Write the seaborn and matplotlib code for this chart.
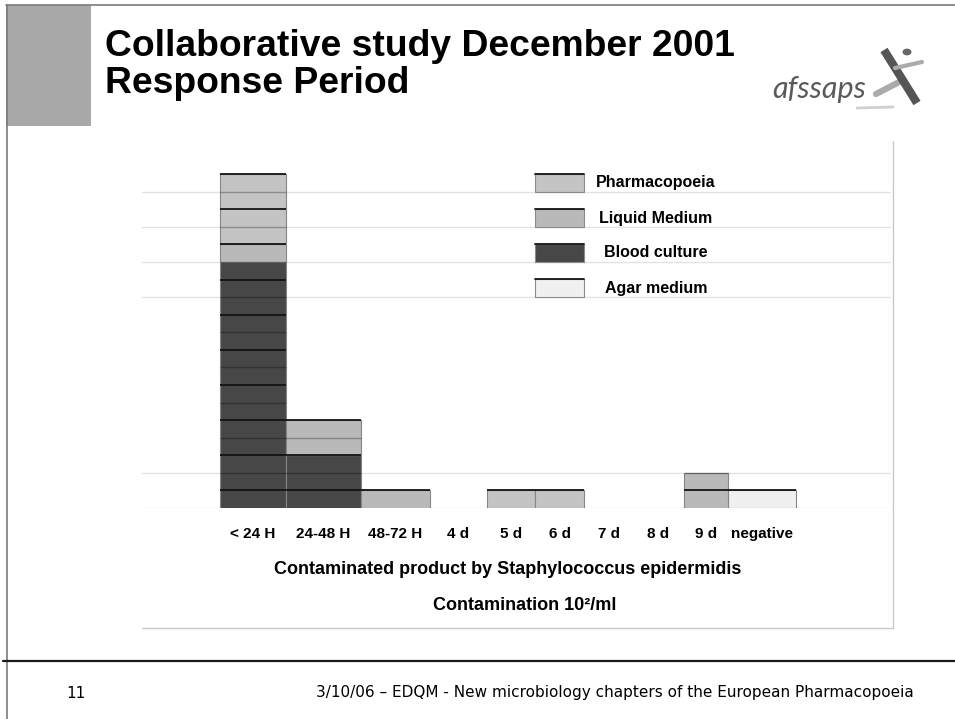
import pandas as pd
import matplotlib.pyplot as plt
from matplotlib.patches import Rectangle, Circle
from matplotlib.lines import Line2D
import seaborn as sns

# values (number of results per response period)
categories = ["< 24 H", "24-48 H", "48-72 H", "4 d", "5 d", "6 d", "7 d", "8 d", "9 d", "negative"]
series = ["Pharmacopoeia", "Liquid Medium", "Blood culture", "Agar medium"]
pharmacopoeia = [4, 0, 0, 0, 1, 1, 0, 0, 0, 0]
liquid_medium = [1, 2, 1, 0, 0, 0, 0, 0, 2, 0]
blood_culture = [14, 3, 0, 0, 0, 0, 0, 0, 0, 0]
agar_medium = [0, 0, 0, 0, 0, 0, 0, 0, 0, 1]

# layout: the original columns have unequal widths (pixel edges)
slot_edges = [220, 286, 361, 430, 487, 535, 584, 633, 684, 728, 796]
colors = {"Pharmacopoeia": "#c4c4c4", "Liquid Medium": "#b9b9b9",
          "Blood culture": "#474747", "Agar medium": "#f0f0f0"}

W, H = 955, 719


def fx(x):
    return x / W


def fy(y):
    return 1 - y / H


centers = [(a + b) / 2 for a, b in zip(slot_edges[:-1], slot_edges[1:])]
counts = dict(zip(series, [pharmacopoeia, liquid_medium, blood_culture, agar_medium]))
df = pd.DataFrame([{"period": c, "x": centers[i], "series": s, "n": counts[s][i]}
                   for s in series for i, c in enumerate(categories)])

sns.set_style("white")
plt.rcParams["font.family"] = ["Liberation Sans", "DejaVu Sans"]
plt.rcParams["text.color"] = "black"
plt.rcParams["xtick.color"] = "black"

fig = plt.figure(figsize=(W / 100, H / 100), dpi=100)
ax_l, ax_r, ax_b, ax_t = 142, 891, 508, 508 - 20 * 17.57
ax = fig.add_axes([fx(ax_l), fy(ax_b), (ax_r - ax_l) / W, (ax_b - ax_t) / H])

# stacked columns (first hue level ends up on top)
sns.histplot(data=df, x="x", weights="n", hue="series", hue_order=series,
             palette=colors, bins=slot_edges, multiple="stack", alpha=1,
             edgecolor="#858585", linewidth=0.8, legend=False, ax=ax)
for p in list(ax.patches):
    if p.get_height() == 0:
        p.remove()

# one block per result, every second line darker as in the original
totals = [sum(v) for v in zip(*counts.values())]
for i, tot in enumerate(totals):
    for k in range(1, tot + 1):
        if k % 2:
            ax.hlines(k, slot_edges[i], slot_edges[i + 1], color="#141414", lw=1.3, zorder=3)
        else:
            ax.hlines(k, slot_edges[i], slot_edges[i + 1], color="black", alpha=0.28, lw=1.0, zorder=3)

ax.set_xlim(ax_l, ax_r)
ax.set_ylim(0, 20)
ax.set_yticks([0, 2, 12, 14, 16, 18])
ax.set_yticklabels([])
ax.yaxis.grid(True, color="#e2e2e2", lw=1)
ax.xaxis.grid(False)
ax.set_axisbelow(True)
ax.set_xticks(centers, categories, fontweight="bold", fontsize=11)
ax.tick_params(axis="both", length=0)
ax.tick_params(axis="x", pad=14)
ax.set_xlabel("")
ax.set_ylabel("")
sns.despine(ax=ax, left=True, bottom=True)

# chart frame (right and bottom only)
fig.add_artist(Line2D([fx(893), fx(893)], [fy(141), fy(628)], color="#c8c8c8", lw=1))
fig.add_artist(Line2D([fx(142), fx(893)], [fy(628), fy(628)], color="#c8c8c8", lw=1))

# legend
for s, top in zip(series, [174, 209, 244, 279]):
    fig.add_artist(Rectangle((fx(535), fy(top + 18)), 49 / W, 18 / H, facecolor=colors[s],
                             edgecolor="#8a8a8a", lw=0.8, transform=fig.transFigure))
    fig.add_artist(Line2D([fx(535), fx(584)], [fy(top), fy(top)], color="#141414", lw=1.3))
    fig.text(fx(656), fy(top + 9), s, ha="center", va="center", fontsize=11.5, fontweight="bold")

fig.text(fx(508), fy(569), "Contaminated product by Staphylococcus epidermidis",
         ha="center", va="center", fontsize=13, fontweight="bold")
fig.text(fx(525), fy(605), "Contamination 10²/ml",
         ha="center", va="center", fontsize=13, fontweight="bold")

# slide decoration
fig.add_artist(Rectangle((fx(6), fy(126)), 85 / W, 121 / H, facecolor="#a8a8a8",
                         edgecolor="none", transform=fig.transFigure))
fig.add_artist(Line2D([fx(6), fx(955)], [fy(5), fy(5)], color="#7a7a7a", lw=1.2))
fig.add_artist(Line2D([fx(7), fx(7)], [fy(5), fy(719)], color="#7a7a7a", lw=1.2))
fig.add_artist(Line2D([fx(3), fx(955)], [fy(661), fy(661)], color="#1a1a1a", lw=1.6))

fig.text(fx(105), fy(56), "Collaborative study December 2001", ha="left", va="baseline",
         fontsize=26.8, fontweight="bold")
fig.text(fx(105), fy(93), "Response Period", ha="left", va="baseline",
         fontsize=26.8, fontweight="bold")

# logo
fig.text(fx(772), fy(98), "afssaps", ha="left", va="baseline", fontsize=22,
         family="Lato", fontstyle="italic", color="#5a5a5a")
fig.add_artist(Line2D([fx(857), fx(893)], [fy(108), fy(107)], color="#d0d0d0", lw=2))
fig.add_artist(Line2D([fx(876), fx(903)], [fy(94), fy(80)], color="#ababab", lw=4.5))
fig.add_artist(Line2D([fx(884), fx(917)], [fy(50), fy(103)], color="#555555", lw=6,
                      solid_capstyle="butt"))
fig.add_artist(Line2D([fx(895), fx(922)], [fy(68), fy(62)], color="#ababab", lw=3))
fig.add_artist(Circle((fx(907), fy(52)), 4.5 / W, facecolor="#666666", edgecolor="none",
                      transform=fig.transFigure))

# footer
fig.text(fx(76), fy(693), "11", ha="center", va="center", fontsize=11, family="DejaVu Sans")
fig.text(fx(615), fy(693), "3/10/06 – EDQM - New microbiology chapters of the European Pharmacopoeia",
         ha="center", va="center", fontsize=11, family="DejaVu Sans")

fig.savefig("out.png", dpi=100)
